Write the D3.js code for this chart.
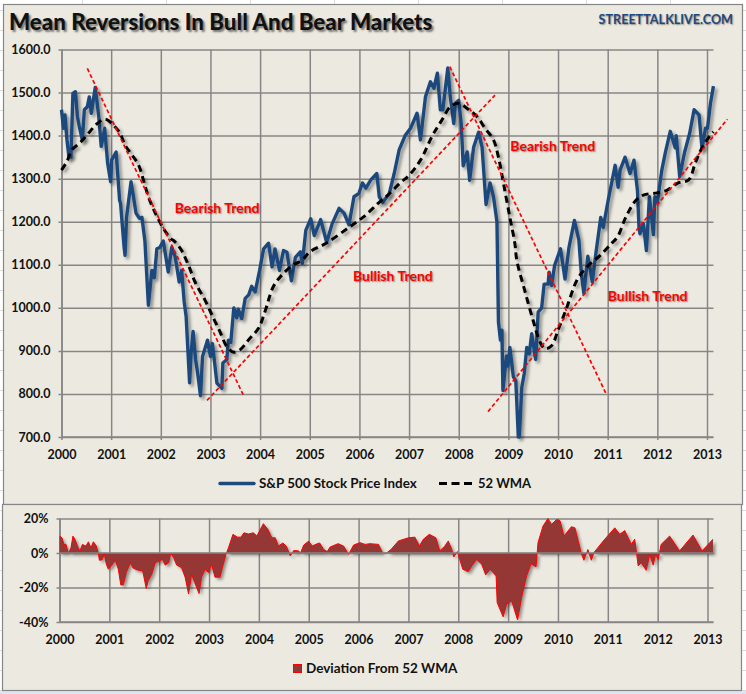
<!DOCTYPE html>
<html>
<head>
<meta charset="utf-8">
<script src="https://cdn.jsdelivr.net/npm/d3@7/dist/d3.min.js"></script>
<style>
  html, body { margin: 0; padding: 0; background: #fff; }
  svg { display: block; }
  text { font-family: Lato, "Open Sans", sans-serif; font-weight: 700; fill: #111; }
</style>
</head>
<body>
<div id="chart"></div>
<script>
const years = d3.range(2000, 2014);
const priceTicks = [700, 800, 900, 1000, 1100, 1200, 1300, 1400, 1500, 1600];
const devTicks = [-40, -20, 0, 20];

const priceYears = [2000.00, 2000.04, 2000.07, 2000.11, 2000.15, 2000.19, 2000.23, 2000.28, 2000.32, 2000.36, 2000.42, 2000.46, 2000.52, 2000.56, 2000.60, 2000.68, 2000.75, 2000.80, 2000.87, 2000.93, 2000.99, 2001.01, 2001.10, 2001.17, 2001.19, 2001.26, 2001.28, 2001.31, 2001.40, 2001.45, 2001.50, 2001.57, 2001.62, 2001.68, 2001.75, 2001.82, 2001.87, 2001.92, 2001.98, 2002.05, 2002.15, 2002.22, 2002.29, 2002.37, 2002.42, 2002.47, 2002.51, 2002.58, 2002.61, 2002.65, 2002.70, 2002.74, 2002.80, 2002.84, 2002.94, 2003.00, 2003.04, 2003.13, 2003.23, 2003.25, 2003.33, 2003.36, 2003.41, 2003.47, 2003.53, 2003.56, 2003.63, 2003.70, 2003.77, 2003.83, 2003.90, 2003.99, 2004.07, 2004.17, 2004.24, 2004.30, 2004.39, 2004.47, 2004.54, 2004.63, 2004.71, 2004.81, 2004.85, 2004.92, 2005.02, 2005.09, 2005.22, 2005.34, 2005.45, 2005.59, 2005.69, 2005.79, 2005.89, 2005.99, 2006.06, 2006.13, 2006.23, 2006.35, 2006.40, 2006.47, 2006.60, 2006.70, 2006.80, 2006.92, 2007.03, 2007.16, 2007.23, 2007.33, 2007.43, 2007.50, 2007.57, 2007.63, 2007.68, 2007.78, 2007.83, 2007.90, 2007.93, 2008.00, 2008.05, 2008.09, 2008.17, 2008.22, 2008.30, 2008.40, 2008.47, 2008.55, 2008.63, 2008.70, 2008.77, 2008.80, 2008.84, 2008.87, 2008.89, 2008.96, 2008.99, 2009.03, 2009.10, 2009.15, 2009.20, 2009.22, 2009.27, 2009.32, 2009.37, 2009.42, 2009.47, 2009.55, 2009.60, 2009.67, 2009.72, 2009.80, 2009.82, 2009.87, 2009.93, 2010.05, 2010.14, 2010.22, 2010.33, 2010.42, 2010.47, 2010.52, 2010.60, 2010.69, 2010.77, 2010.86, 2010.91, 2011.01, 2011.15, 2011.21, 2011.25, 2011.35, 2011.45, 2011.53, 2011.60, 2011.63, 2011.65, 2011.72, 2011.78, 2011.84, 2011.92, 2011.95, 2012.00, 2012.09, 2012.16, 2012.26, 2012.36, 2012.38, 2012.45, 2012.55, 2012.65, 2012.74, 2012.84, 2012.90, 2012.97, 2013.01, 2013.07, 2013.13];
const priceValues = [1460, 1417, 1448, 1390, 1350, 1350, 1498, 1502, 1445, 1420, 1390, 1460, 1467, 1490, 1452, 1512, 1445, 1375, 1417, 1335, 1293, 1343, 1362, 1250, 1242, 1142, 1122, 1210, 1293, 1258, 1220, 1208, 1210, 1155, 1006, 1087, 1070, 1137, 1140, 1155, 1083, 1141, 1118, 1060, 1087, 1015, 980, 826, 895, 945, 880, 850, 796, 887, 925, 887, 917, 825, 813, 872, 880, 925, 920, 1000, 977, 997, 975, 1022, 1030, 1050, 1037, 1087, 1137, 1150, 1095, 1137, 1087, 1133, 1129, 1063, 1117, 1130, 1103, 1180, 1207, 1168, 1205, 1152, 1195, 1231, 1220, 1193, 1258, 1266, 1290, 1278, 1297, 1312, 1258, 1245, 1265, 1312, 1367, 1400, 1417, 1452, 1390, 1490, 1525, 1510, 1545, 1460, 1460, 1557, 1490, 1428, 1475, 1482, 1428, 1330, 1362, 1296, 1373, 1408, 1373, 1240, 1290, 1258, 1200, 967, 925, 948, 808, 888, 865, 908, 840, 830, 700, 700, 815, 848, 908, 893, 940, 880, 990, 1000, 1055, 1055, 1083, 1052, 1098, 1137, 1067, 1140, 1203, 1157, 1078, 1033, 1120, 1060, 1133, 1210, 1187, 1250, 1331, 1280, 1320, 1350, 1312, 1343, 1272, 1187, 1172, 1195, 1133, 1258, 1170, 1258, 1245, 1320, 1360, 1410, 1372, 1400, 1305, 1362, 1405, 1460, 1448, 1370, 1417, 1417, 1475, 1515];

const wmaYears = [2000.00, 2000.11, 2000.21, 2000.37, 2000.54, 2000.71, 2000.88, 2001.04, 2001.18, 2001.28, 2001.42, 2001.55, 2001.65, 2001.75, 2001.89, 2002.05, 2002.19, 2002.29, 2002.42, 2002.56, 2002.69, 2002.89, 2003.06, 2003.19, 2003.33, 2003.47, 2003.60, 2003.77, 2003.97, 2004.10, 2004.27, 2004.47, 2004.67, 2004.84, 2005.00, 2005.33, 2005.79, 2006.09, 2006.38, 2006.60, 2006.82, 2007.00, 2007.23, 2007.47, 2007.66, 2007.83, 2008.00, 2008.17, 2008.37, 2008.53, 2008.70, 2008.80, 2008.90, 2009.03, 2009.13, 2009.17, 2009.33, 2009.50, 2009.64, 2009.74, 2009.87, 2010.00, 2010.18, 2010.38, 2010.58, 2010.85, 2011.08, 2011.20, 2011.37, 2011.57, 2011.72, 2011.99, 2012.19, 2012.42, 2012.63, 2012.76, 2012.87, 2013.00, 2013.13];
const wmaValues = [1320, 1340, 1367, 1383, 1405, 1427, 1438, 1425, 1405, 1378, 1355, 1332, 1297, 1258, 1220, 1185, 1162, 1153, 1133, 1098, 1060, 1018, 976, 945, 910, 897, 903, 926, 953, 992, 1050, 1080, 1100, 1110, 1130, 1150, 1187, 1212, 1243, 1265, 1290, 1308, 1343, 1400, 1436, 1467, 1475, 1463, 1444, 1417, 1390, 1350, 1290, 1210, 1150, 1110, 1040, 970, 920, 905, 912, 948, 1002, 1064, 1095, 1122, 1150, 1165, 1212, 1250, 1262, 1267, 1273, 1290, 1297, 1335, 1365, 1390, 1409];

const devYears = [2000.00, 2000.05, 2000.09, 2000.13, 2000.18, 2000.23, 2000.27, 2000.31, 2000.36, 2000.41, 2000.46, 2000.53, 2000.58, 2000.63, 2000.68, 2000.74, 2000.78, 2000.80, 2000.85, 2000.90, 2000.94, 2000.98, 2001.05, 2001.12, 2001.18, 2001.23, 2001.28, 2001.34, 2001.42, 2001.48, 2001.58, 2001.67, 2001.74, 2001.78, 2001.85, 2001.92, 2002.00, 2002.07, 2002.12, 2002.19, 2002.23, 2002.29, 2002.35, 2002.45, 2002.52, 2002.59, 2002.65, 2002.71, 2002.80, 2002.85, 2002.92, 2002.99, 2003.05, 2003.12, 2003.22, 2003.28, 2003.34, 2003.39, 2003.48, 2003.57, 2003.64, 2003.70, 2003.79, 2003.89, 2003.96, 2004.03, 2004.09, 2004.18, 2004.26, 2004.33, 2004.39, 2004.48, 2004.55, 2004.63, 2004.70, 2004.80, 2004.83, 2004.90, 2005.00, 2005.07, 2005.17, 2005.22, 2005.30, 2005.37, 2005.43, 2005.59, 2005.70, 2005.80, 2005.90, 2006.03, 2006.13, 2006.23, 2006.40, 2006.49, 2006.57, 2006.65, 2006.80, 2007.00, 2007.13, 2007.22, 2007.30, 2007.42, 2007.55, 2007.63, 2007.73, 2007.80, 2007.87, 2007.91, 2007.98, 2008.03, 2008.09, 2008.20, 2008.27, 2008.37, 2008.47, 2008.55, 2008.64, 2008.76, 2008.78, 2008.90, 2008.97, 2009.07, 2009.19, 2009.27, 2009.37, 2009.46, 2009.56, 2009.60, 2009.70, 2009.80, 2009.87, 2009.97, 2010.04, 2010.12, 2010.27, 2010.34, 2010.47, 2010.52, 2010.60, 2010.67, 2010.72, 2010.91, 2011.14, 2011.24, 2011.34, 2011.47, 2011.54, 2011.61, 2011.67, 2011.77, 2011.84, 2011.91, 2011.96, 2012.01, 2012.07, 2012.24, 2012.44, 2012.71, 2012.89, 2013.11];
const devValues = [9.8, 8.8, 5, 5, -0.4, 3, 9.8, 8, 4, 1.2, 5, 4, 6.5, 3, 6.5, 4, -0.4, -4.2, -4, -0.8, -6.5, -9.4, -7, -4.2, -9.4, -18.5, -18.5, -11.3, -5.6, -8.8, -10, -10.4, -20.6, -16, -12.3, -5.6, -4.6, -3.7, -7, -5.6, -0.4, -2.7, -7, -8.5, -14, -23.8, -12.3, -17, -23.5, -14, -9.4, -11.3, -6.5, -14, -14, -7, -0.8, 3, 10.8, 9.2, 9.2, 11.7, 11, 11.7, 9.8, 13.7, 17, 13.7, 8.8, 8.8, 4, 5.8, 4, -1.7, 1.5, 1.2, -0.4, 4.6, 6.9, 4, 5.4, 5.8, 2, 0.8, 3.5, 5.4, 4, -0.8, 4.6, 6, 5, 5.4, 5, -0.4, 0.2, 2, 7, 8.8, 9.2, 4, 8, 10.8, 8.8, 1.2, 4, 7, 2, -2.3, 0.8, -3.7, -9.4, -10.8, -7.5, -3.7, -6.5, -12.7, -9.4, -13.3, -28.7, -37, -29.6, -27.7, -38.8, -25.8, -13.3, -6.2, -8, 6, 15.6, 20, 16.5, 19.4, 18.8, 9.8, 15.2, 14.6, -0.4, -4.2, 2, -4.2, 0.2, 7, 14.6, 10.8, 13, 5, 8, -7.5, -5.6, -10, -0.8, -7, -0.8, -3.7, 5, 9.8, 1.2, 10.4, 1.2, 8];

// trend lines as [year, value] ends
const trendLines = [
  [[2000.52, 1556], [2003.66, 798]],
  [[2002.93, 785], [2008.73, 1494]],
  [[2007.82, 1560], [2010.97, 800]],
  [[2008.59, 759], [2013.41, 1438]]
];
const trendLabels = [
  { text: 'Bearish Trend', year: 2002.28, value: 1228 },
  { text: 'Bullish Trend', year: 2005.87, value: 1070 },
  { text: 'Bearish Trend', year: 2009.04, value: 1373 },
  { text: 'Bullish Trend', year: 2011.0, value: 1024 }
];

const width = 746;
const height = 694;
const panelColor = '#ecEAE0';
const gridColor = '#868686';
const blue = '#1f497d';

const svg = d3.select('#chart').append('svg').attr('width', width).attr('height', height);

const defs = svg.append('defs');
const shadow = defs.append('filter').attr('id', 'shadow')
  .attr('x', '-5%').attr('y', '-5%').attr('width', '110%').attr('height', '110%');
shadow.append('feDropShadow').attr('dx', 2.5).attr('dy', 2.5).attr('stdDeviation', 1.5)
  .attr('flood-color', '#000').attr('flood-opacity', 0.4);

// spreadsheet cells behind the panels
const sheet = svg.append('g').attr('stroke', '#dcdcdc').attr('stroke-width', 1);
d3.range(10, height, 20).forEach(y => {
  sheet.append('line').attr('x1', 0).attr('x2', width).attr('y1', y + 0.5).attr('y2', y + 0.5);
});
d3.range(82.5, width, 84).forEach(x => {
  sheet.append('line').attr('x1', x).attr('x2', x).attr('y1', 0).attr('y2', height);
});
svg.append('rect').attr('x', 0).attr('y', 691).attr('width', width).attr('height', 3).attr('fill', '#dce6f2');

svg.append('rect').attr('x', 3.5).attr('y', 4.5).attr('width', 739).attr('height', 500)
  .attr('fill', panelColor).attr('stroke', gridColor).attr('stroke-width', 1.2);
svg.append('rect').attr('x', 2.5).attr('y', 504.5).attr('width', 739).attr('height', 186)
  .attr('fill', panelColor).attr('stroke', gridColor).attr('stroke-width', 1.2);

// top chart
const x = d3.scaleLinear().domain([2000, 2013]).range([61.5, 707]);
const y = d3.scaleLinear().domain([700, 1600]).range([437, 49.5]);
const xRight = x(2013.13);

function styleAxis(g) {
  g.select('.domain').attr('stroke', gridColor).attr('stroke-width', 1.5);
  g.selectAll('.tick line').attr('stroke', gridColor).attr('stroke-width', 1.5);
  g.selectAll('.tick text').attr('fill', '#111')
    .style('font-family', 'Lato, "Open Sans", sans-serif')
    .style('font-weight', 700).style('font-size', '12.5px');
}

svg.append('g').attr('transform', `translate(0,${y(700)})`)
  .call(d3.axisBottom(x).tickValues(years).tickFormat(d3.format('d')).tickSizeInner(0).tickSizeOuter(0))
  .call(styleAxis)
  .call(g => g.selectAll('.tick line').attr('y1', y(1600) - y(700)).attr('y2', 3))
  .call(g => g.selectAll('.tick text').attr('dy', '1.55em'))
  .call(g => g.select('.domain').attr('d', `M${x(2000)},0H${xRight}`));

svg.append('g').attr('transform', `translate(${x(2000)},0)`)
  .call(d3.axisLeft(y).tickValues(priceTicks).tickFormat(d3.format('.1f')).tickSizeInner(0).tickSizeOuter(0).tickPadding(11))
  .call(styleAxis)
  .call(g => g.selectAll('.tick line').attr('x1', -3).attr('x2', xRight - x(2000)));

const priceLine = d3.line().x((d, i) => x(priceYears[i])).y(d => y(d));
const wmaLine = d3.line().x((d, i) => x(wmaYears[i])).y(d => y(d)).curve(d3.curveCatmullRom);

svg.append('path').datum(priceValues).attr('d', priceLine)
  .attr('fill', 'none').attr('stroke', blue).attr('stroke-width', 3.4)
  .attr('stroke-linejoin', 'round').attr('filter', 'url(#shadow)');
svg.append('path').datum(wmaValues).attr('d', wmaLine)
  .attr('fill', 'none').attr('stroke', '#000').attr('stroke-width', 3)
  .attr('stroke-dasharray', '7,4.5').attr('filter', 'url(#shadow)');

svg.append('g').selectAll('line').data(trendLines).join('line')
  .attr('x1', d => x(d[0][0])).attr('y1', d => y(d[0][1]))
  .attr('x2', d => x(d[1][0])).attr('y2', d => y(d[1][1]))
  .attr('stroke', '#ff0000').attr('stroke-width', 1.7).attr('stroke-dasharray', '4,2.5');

svg.append('g').selectAll('text').data(trendLabels).join('text')
  .attr('x', d => x(d.year)).attr('y', d => y(d.value))
  .attr('dominant-baseline', 'middle')
  .style('fill', '#ff0000').style('font-size', '14px')
  .style('text-shadow', '1px 1px 1.5px rgba(0,0,0,.45)')
  .text(d => d.text);

svg.append('text').attr('x', 9).attr('y', 30).style('font-size', '22.3px').style('font-weight', 900)
  .style('text-shadow', '2px 2px 2px rgba(0,0,0,.5)').text('Mean Reversions In Bull And Bear Markets');
svg.append('text').attr('x', 733).attr('y', 24).attr('text-anchor', 'end')
  .style('fill', blue).style('font-size', '12.6px')
  .style('text-shadow', '1px 1px 1.5px rgba(0,0,0,.4)').text('STREETTALKLIVE.COM');

// legend top
svg.append('line').attr('x1', 220).attr('x2', 254).attr('y1', 483.5).attr('y2', 483.5)
  .attr('stroke', blue).attr('stroke-width', 3.4).attr('stroke-linecap', 'round');
svg.append('text').attr('x', 259).attr('y', 488).style('font-size', '13.4px').text('S&P 500 Stock Price Index');
svg.append('line').attr('x1', 439).attr('x2', 472).attr('y1', 483.5).attr('y2', 483.5)
  .attr('stroke', '#000').attr('stroke-width', 3).attr('stroke-dasharray', '8,4.5');
svg.append('text').attr('x', 478).attr('y', 488).style('font-size', '13px').text('52 WMA');

// bottom chart
const x2 = d3.scaleLinear().domain([2000, 2013]).range([59.5, 707.5]);
const y2 = d3.scaleLinear().domain([-40, 20]).range([622, 518.5]);
const x2Right = 713.5;

svg.append('g').attr('transform', `translate(0,${y2(-40)})`)
  .call(d3.axisBottom(x2).tickValues(years).tickFormat(d3.format('d')).tickSizeInner(0).tickSizeOuter(0))
  .call(styleAxis)
  .call(g => g.selectAll('.tick line').attr('y1', y2(20) - y2(-40)).attr('y2', 0))
  .call(g => g.selectAll('.tick text').attr('dy', '1.55em'))
  .call(g => g.select('.domain').attr('d', `M${x2(2000)},0H${x2Right}`));

svg.append('g').attr('transform', `translate(${x2(2000)},0)`)
  .call(d3.axisLeft(y2).tickValues(devTicks).tickFormat(d => d + '%').tickSizeInner(0).tickSizeOuter(0).tickPadding(11))
  .call(styleAxis)
  .call(g => g.selectAll('.tick line').attr('x1', -3).attr('x2', x2Right - x2(2000)));

const devArea = d3.area().x((d, i) => x2(devYears[i])).y0(y2(0)).y1(d => y2(d));
const devLine = d3.line().x((d, i) => x2(devYears[i])).y(d => y2(d));

svg.append('path').datum(devValues).attr('d', devArea)
  .attr('fill', '#953735').attr('filter', 'url(#shadow)');
svg.append('path').datum(devValues).attr('d', devLine)
  .attr('fill', 'none').attr('stroke', '#ff0000').attr('stroke-width', 1);
svg.append('line').attr('x1', x2(2000)).attr('x2', x2Right).attr('y1', y2(0)).attr('y2', y2(0))
  .attr('stroke', gridColor).attr('stroke-width', 1.5);

// legend bottom
svg.append('rect').attr('x', 293.5).attr('y', 664.5).attr('width', 8).attr('height', 8)
  .attr('fill', '#953735').attr('stroke', '#ff0000').attr('stroke-width', 1);
svg.append('text').attr('x', 306).attr('y', 673).style('font-size', '13.5px').text('Deviation From 52 WMA');
</script>
</body>
</html>
